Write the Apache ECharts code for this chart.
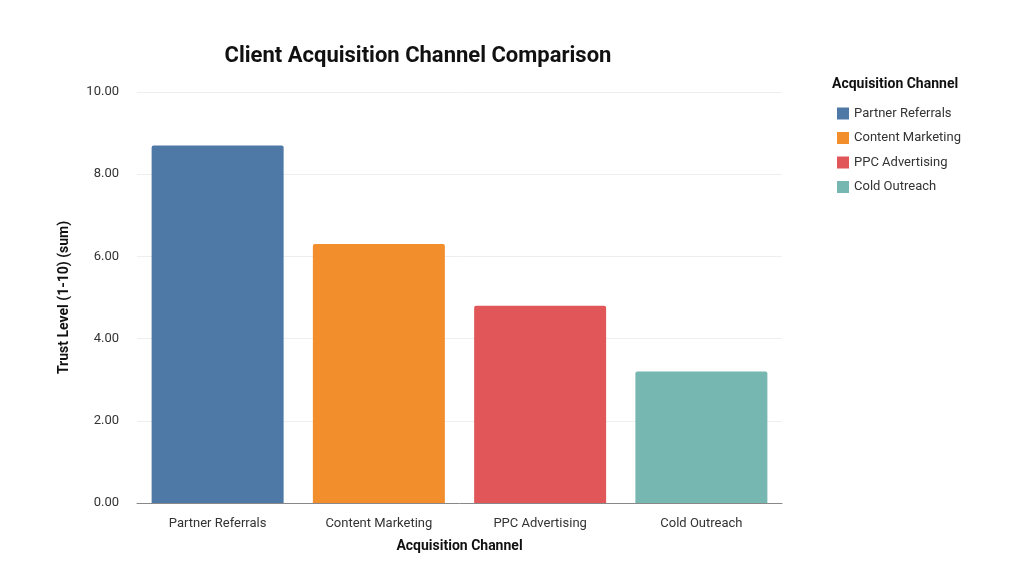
<!DOCTYPE html>
<html><head><meta charset="utf-8">
<script src="https://cdn.jsdelivr.net/npm/echarts@6/dist/echarts.min.js"></script>
<style>html,body{margin:0;padding:0;background:#fff}#c{width:1024px;height:581px}</style>
</head><body><div id="c"></div>
<script>
const categories = ["Partner Referrals","Content Marketing","PPC Advertising","Cold Outreach"];
const values = [8.7, 6.3, 4.8, 3.2];
const colors = ["#4e79a7","#f28e2b","#e15759","#76b7b2"];
const chart = echarts.init(document.getElementById('c'));
const series = categories.map((name,i)=>({
  name, type:'bar', barWidth:132, barGap:'-100%',
  data: values.map((v,j)=> j===i ? v : null),
  itemStyle:{color:colors[i], borderRadius:[2,2,0,0]}
}));
chart.setOption({
  textStyle:{fontFamily:'Roboto'},
  title:{text:'Client Acquisition Channel Comparison', left:413, top:40, textAlign:'center',
    textStyle:{fontSize:22, fontWeight:'bold', color:'#111', fontFamily:'Roboto'}},
  graphic:[{type:'text', left:832, top:77, style:{text:'Acquisition Channel', font:'bold 14px Roboto', fill:'#111'}}],
  legend:{orient:'vertical', left:832, top:102, itemWidth:12, itemHeight:12, itemGap:11.5,
    icon:'rect', textStyle:{fontSize:13, color:'#333'}, data:categories},
  grid:{left:137, right:242, top:92, bottom:78},
  xAxis:{type:'category', data:categories, name:'Acquisition Channel', nameLocation:'middle', nameGap:36,
    nameTextStyle:{fontSize:14, fontWeight:'bold', color:'#111'},
    axisTick:{show:false}, axisLine:{lineStyle:{color:'#888'}},
    axisLabel:{fontSize:13, color:'#333', margin:14}},
  yAxis:{type:'value', min:0, max:10, interval:2, name:'Trust Level (1-10) (sum)', nameLocation:'middle', nameGap:66,
    nameTextStyle:{fontSize:14, fontWeight:'bold', color:'#111'},
    axisLabel:{formatter:v=>v.toFixed(2), fontSize:13, color:'#333', margin:18},
    splitLine:{lineStyle:{color:'#eee'}}},
  series
});
</script></body></html>
